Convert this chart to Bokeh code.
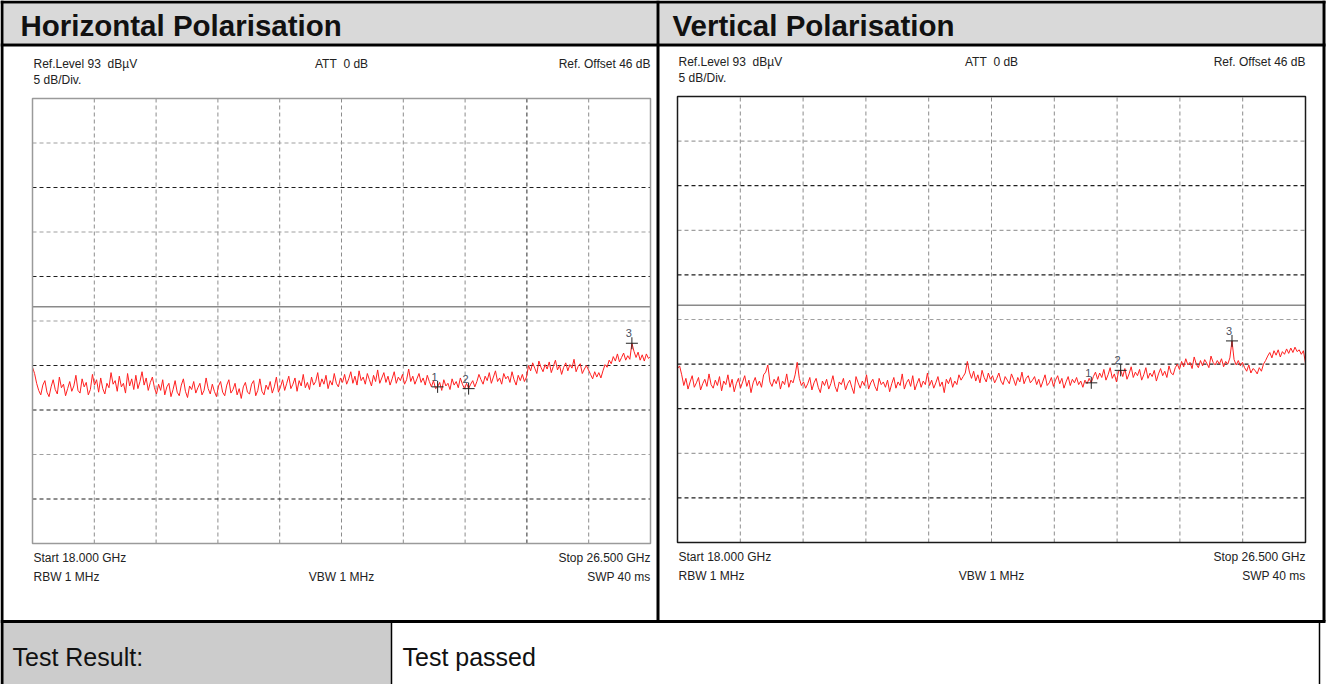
import numpy as np
from bokeh.plotting import figure
from bokeh.models import Range1d, ColumnDataSource
from bokeh.core.properties import value
from bokeh.embed import file_html
from bokeh.resources import INLINE

# ---------------- sweep settings (shared by both polarisations) ----------------
f_start = 18.0        # GHz
f_stop = 26.5         # GHz
ref_level = 93        # dBuV, top of screen
db_per_div = 5
n_div = 10
att_db = 0
ref_offset_db = 46
rbw_mhz = 1
vbw_mhz = 1
swp_ms = 40
display_line = 69.6   # dBuV

# ---------------- measured traces (dBuV per sweep point) ----------------
level_h = [
    62.8, 62.1, 61.0, 60.2, 59.7, 60.8, 61.3, 60.0, 59.5, 60.6,
    61.4, 60.3, 59.8, 61.7, 60.5, 60.9, 59.6, 60.4, 61.2, 60.1,
    60.7, 61.9, 60.2, 59.9, 61.5, 60.6, 61.1, 59.7, 60.3, 62.0,
    60.8, 61.4, 60.0, 61.6, 60.4, 59.8, 61.0, 60.5, 62.2, 60.9,
    61.3, 60.1, 61.8, 60.6, 61.0, 59.9, 62.1, 60.7, 61.5, 60.3,
    61.9, 60.4, 61.2, 62.3, 60.8, 61.6, 60.2, 61.1, 61.7, 60.5,
    59.8, 60.9, 60.2, 61.4, 59.7, 60.6, 61.0, 59.5, 60.3, 61.3,
    60.0, 59.6, 60.8, 61.5, 60.1, 59.4, 60.7, 60.3, 61.2, 59.9,
    60.5, 61.0, 59.7, 60.2, 61.6, 60.4, 59.8, 60.9, 60.1, 59.5,
    60.7, 61.2, 60.0, 59.6, 60.8, 61.4, 59.9, 60.3, 61.0, 59.7,
    60.4, 59.3, 60.6, 61.1, 60.0, 59.8, 60.9, 61.3, 59.6, 60.2,
    61.5, 60.1, 59.7, 60.8, 60.3, 61.2, 59.9, 60.6, 61.7, 60.0,
    60.6, 61.4, 60.2, 61.0, 61.8, 60.4, 60.9, 61.6, 60.1, 61.3,
    60.7, 62.0, 60.5, 61.1, 60.3, 61.7, 60.8, 61.2, 62.2, 60.6,
    61.5, 60.9, 61.9, 60.4, 61.3, 60.8, 62.1, 61.0, 60.6, 61.6,
    61.1, 62.0, 60.9, 61.5, 62.3, 61.0, 61.8, 60.8, 62.4, 61.3,
    61.7, 60.9, 62.1, 61.4, 60.7, 61.9, 61.2, 62.5, 61.0, 61.6,
    62.2, 61.1, 61.8, 60.8, 61.5, 62.3, 61.0, 61.7, 61.3, 62.0,
    60.9, 61.4, 62.6, 61.2, 61.8, 60.9, 61.5, 62.1, 61.1, 61.6,
    60.8, 61.9, 61.2, 60.6, 61.3, 60.4, 60.6, 61.1, 60.2, 61.4,
    60.7, 61.0, 60.3, 61.5, 60.8, 61.2, 60.5, 61.6, 60.9, 60.4,
    61.0, 60.4, 60.9, 61.3, 60.6, 61.2, 62.0, 61.4, 60.9, 61.8,
    61.3, 62.2, 61.0, 61.7, 62.4, 61.2, 61.6, 60.9, 62.1, 61.5,
    61.8, 61.1, 62.3, 61.4, 60.8, 61.9, 61.3, 62.0, 61.2, 61.7,
    63.0, 62.4, 63.3, 62.7, 62.1, 63.5, 62.8, 62.3, 63.1, 62.6,
    63.4, 62.2, 62.9, 63.6, 62.5, 63.0, 62.0, 62.8, 63.3, 62.4,
    63.1, 62.7, 63.7, 62.3, 62.9, 63.2, 62.1, 62.6, 63.0, 62.5,
    62.0, 61.5, 62.3, 61.7, 62.2, 61.6, 62.4, 63.1, 62.8, 63.6,
    63.2, 64.0, 63.5, 64.3, 63.4, 63.9, 64.4, 63.6, 64.1, 63.7,
    65.5, 64.6, 63.9, 64.5, 63.6, 64.2, 63.5, 64.3, 63.8, 64.0,
]

level_v = [
    62.5, 62.8, 61.8, 60.6, 61.4, 60.2, 61.0, 61.7, 60.4, 60.9,
    61.5, 60.1, 60.8, 61.3, 60.5, 61.9, 60.7, 60.3, 61.2, 60.6,
    61.6, 60.0, 61.1, 60.7, 61.8, 60.4, 61.3, 59.9, 60.8, 61.4,
    60.3, 61.0, 61.7, 60.5, 61.2, 59.8, 60.9, 61.5, 60.6, 61.1,
    60.4, 61.8, 62.1, 62.9, 61.0, 60.5, 61.3, 60.8, 61.6, 60.2,
    61.1, 60.7, 61.9, 60.4, 61.2, 60.9, 61.8, 63.2, 61.4, 60.6,
    61.0, 60.3, 60.8, 61.5, 60.1, 60.9, 61.4, 60.4, 59.8, 61.1,
    60.6, 61.3, 60.2, 60.8, 61.7, 60.5, 59.9, 61.0, 60.7, 61.4,
    60.1, 60.8, 61.2, 60.4, 59.7, 61.6, 60.9, 60.3, 61.1, 60.6,
    61.8, 60.2, 60.9, 61.3, 60.5, 60.0, 61.4, 60.7, 61.0, 60.4,
    61.2, 59.9, 60.8, 61.5, 60.3, 61.0, 60.6, 61.9, 60.2, 60.9,
    61.3, 60.5, 61.7, 60.1, 60.8, 61.4, 60.4, 61.1, 60.7, 62.0,
    60.6, 61.2, 60.3, 60.9, 61.6, 60.5, 61.0, 59.8, 61.3, 60.8,
    61.5, 60.4, 61.1, 60.7, 61.8, 61.2, 61.6, 62.0, 63.3, 62.1,
    61.4, 62.2, 61.1, 61.8, 60.9, 62.3, 61.5, 61.0, 62.0, 61.3,
    61.7, 60.9, 61.4, 62.0, 61.1, 60.7, 61.6, 61.2, 60.8, 61.9,
    61.3, 60.6, 61.5, 61.0, 62.1, 60.8, 61.4, 61.7, 60.9, 61.2,
    61.6, 60.7, 61.3, 60.4, 61.1, 61.8, 60.6, 60.9, 61.5, 60.5,
    61.2, 61.7, 60.8, 61.4, 60.3, 61.0, 61.6, 60.6, 61.3, 60.9,
    61.5, 60.7, 61.1, 60.4, 61.2, 60.8, 61.4, 60.9, 61.6, 62.1,
    61.3, 62.0, 61.5, 62.4, 61.2, 61.8, 62.6, 61.4, 61.9, 61.0,
    62.2, 62.3, 61.6, 62.5, 61.3, 61.9, 62.7, 61.5, 62.1, 61.7,
    62.4, 61.2, 61.8, 62.6, 61.4, 62.0, 61.6, 62.3, 61.1, 61.9,
    62.5, 61.7, 62.2, 61.5, 62.8, 62.0, 61.8, 62.6, 63.0, 62.4,
    63.3, 62.7, 63.6, 62.9, 63.2, 62.5, 63.8, 63.0, 62.6, 63.4,
    62.8, 63.5, 63.1, 62.6, 63.9, 63.2, 62.9, 63.4, 63.0, 63.6,
    62.7, 63.3, 63.0, 63.7, 65.6, 63.5, 62.9, 63.4, 62.8, 63.2,
    62.6, 62.2, 62.9, 62.0, 62.5, 62.3, 61.9, 62.6, 62.2, 63.0,
    63.4, 63.9, 64.3, 63.7, 64.5, 64.0, 64.6, 63.8, 64.4, 64.1,
    64.7, 64.2, 64.8, 64.3, 64.9, 64.4, 64.6, 64.1, 64.5, 63.1,
]

# marker positions as sweep point indices
markers_h = [196, 211, 290]
markers_v = [197, 211, 264]
marker_names = ["1", "2", "3"]

panel_titles = ["Horizontal Polarisation", "Vertical Polarisation"]
result_label = "Test Result:"
result_text = "Test passed"

# ---------------- page ----------------
W, H = 1328, 684
FONT = value("Liberation Sans")

p = figure(width=W, height=H, x_range=Range1d(0, W), y_range=Range1d(H, 0),
           output_backend="svg", toolbar_location=None, min_border=0,
           x_axis_location=None, y_axis_location=None)
p.grid.visible = False
p.outline_line_color = None
p.background_fill_color = "white"
p.border_fill_color = "white"

# header bands and result cell
p.quad(left=[3, 659], right=[656, 1322], top=[3, 3], bottom=[43, 43],
       fill_color="#d9d9d9", line_color=None)
p.quad(left=[2], right=[391], top=[622], bottom=[H], fill_color="#cccccc", line_color=None)

# table borders
p.segment(x0=[0, 0, 0], y0=[1.5, 44.5, 621], x1=[1325, 1325, 1325], y1=[1.5, 44.5, 621],
          line_color="black", line_width=3)
p.segment(x0=[1.5, 657.5, 1323.5], y0=[0, 0, 0], x1=[1.5, 657.5, 1323.5], y1=[H, 621, 621],
          line_color="black", line_width=3)
p.segment(x0=[1319, 391], y0=[621, 622], x1=[1319, 391], y1=[H, H],
          line_color="black", line_width=1.5)

p.text(x=[20, 672], y=[25, 25], text=panel_titles, text_font=FONT,
       text_font_size="29.5px", text_font_style="bold", text_color="#111111",
       text_align="left", text_baseline="middle")
p.text(x=[12, 402], y=[656, 656], text=[result_label, result_text], text_font=FONT,
       text_font_size="25px", text_color="#111111", text_align="left", text_baseline="middle")


def draw_panel(key, levels, marks, fx0, fx1, fy0, fy1, frame_color, v_colors, h_colors):
    span = f_stop - f_start
    bottom_db = ref_level - n_div * db_per_div
    gx = span / (fx1 - fx0)
    gy = (ref_level - bottom_db) / (fy1 - fy0)
    xr, yr = key + "x", key + "y"
    p.extra_x_ranges[xr] = Range1d(f_start - fx0 * gx, f_stop + (W - fx1) * gx)
    p.extra_y_ranges[yr] = Range1d(bottom_db - (H - fy1) * gy, ref_level + fy0 * gy)
    kw = dict(x_range_name=xr, y_range_name=yr)

    # graticule
    fx = [f_start + k * span / n_div for k in range(1, n_div)]
    p.segment(x0=fx, x1=fx, y0=[bottom_db] * len(fx), y1=[ref_level] * len(fx),
              line_color=v_colors, line_width=1, line_dash="4 3", **kw)
    hy = [bottom_db + k * db_per_div for k in range(1, n_div)]
    p.segment(x0=[f_start] * len(hy), x1=[f_stop] * len(hy), y0=hy, y1=hy,
              line_color=h_colors, line_width=1.2, line_dash="4 3", **kw)

    # display line
    p.segment(x0=[f_start], x1=[f_stop], y0=[display_line], y1=[display_line],
              line_color="#8a8a8a", line_width=1.5, **kw)

    # trace
    freq = np.linspace(f_start, f_stop, len(levels))
    lv = np.array(levels)
    p.line(freq, lv, line_color="#ff2020", line_width=1, **kw)

    # markers
    msrc = ColumnDataSource(dict(x=freq[marks], y=lv[marks], name=marker_names))
    p.scatter("x", "y", source=msrc, marker="cross", size=12, line_color="#222222",
              line_width=1, **kw)
    p.text("x", "y", text="name", source=msrc, text_font=FONT, text_font_size="11px",
           text_color="#4a5060", text_align="center", text_baseline="middle",
           x_offset=-3, y_offset=-10, **kw)

    # frame
    p.quad(left=[f_start], right=[f_stop], bottom=[bottom_db], top=[ref_level],
           fill_color=None, line_color=frame_color, line_width=1.5, **kw)

    # instrument annotations
    cx = (fx0 + fx1) / 2
    small = dict(text_font=FONT, text_font_size="12px", text_color="#222222",
                 text_baseline="middle")
    p.text(x=[fx0 + 1, fx0 + 1, fx0 + 1, fx0 + 1], y=[fy0 - 35, fy0 - 19, fy1 + 14, fy1 + 33],
           text=[f"Ref.Level {ref_level}\u00a0 dB\u00b5V", f"{db_per_div} dB/Div.",
                 f"Start {f_start:.3f} GHz", f"RBW {rbw_mhz} MHz"],
           text_align="left", **small)
    p.text(x=[cx, cx], y=[fy0 - 35, fy1 + 33],
           text=[f"ATT\u00a0 {att_db} dB", f"VBW {vbw_mhz} MHz"], text_align="center", **small)
    p.text(x=[fx1, fx1, fx1], y=[fy0 - 35, fy1 + 14, fy1 + 33],
           text=[f"Ref. Offset {ref_offset_db} dB", f"Stop {f_stop:.3f} GHz", f"SWP {swp_ms} ms"],
           text_align="right", **small)


light, dark = "#a0a0a0", "#1e1e1e"
h_pattern = [dark, light, dark, dark, light, dark, light, dark, light]  # bottom to top
v_left = ["#8c8c8c"] * 7 + ["#2a2a2a", "#8c8c8c"]
v_right = ["#8c8c8c"] * 9

draw_panel("h", level_h, markers_h, 32, 650, 98, 543, "#9a9a9a", v_left, h_pattern)
draw_panel("v", level_v, markers_v, 677, 1305, 96, 542, "#1a1a1a", v_right, h_pattern)

open("out.html", "w").write(file_html(p, INLINE))
